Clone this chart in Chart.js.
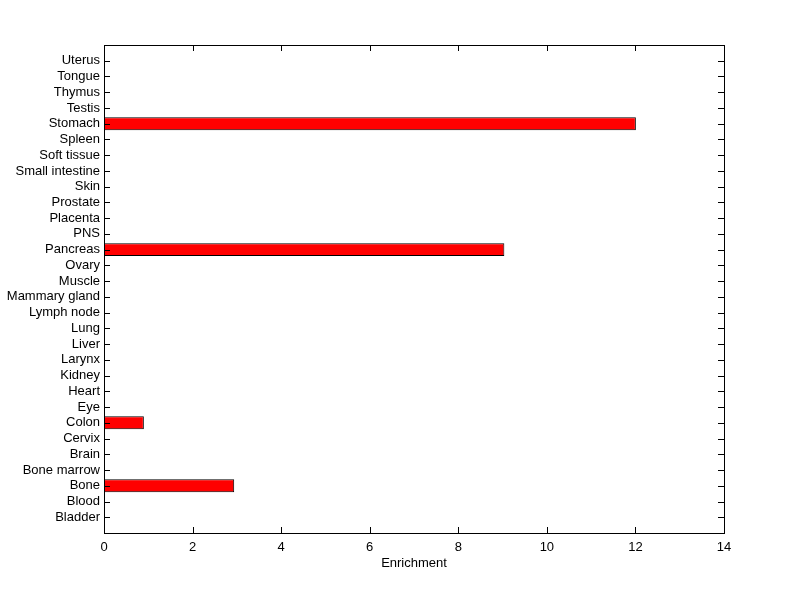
<!DOCTYPE html>
<html>
<head>
<meta charset="utf-8">
<script src="https://cdn.jsdelivr.net/npm/chart.js@4"></script>
<style>
  html, body { margin: 0; padding: 0; background: #fff; }
  #wrap { width: 800px; height: 599px; }
</style>
</head>
<body>
<div id="wrap"><canvas id="enrichChart" width="800" height="599"></canvas></div>
<script>
/* Tissue enrichment bar chart, MATLAB look */

// categories listed bottom to top
const TISSUES = [
  'Bladder', 'Blood', 'Bone', 'Bone marrow', 'Brain', 'Cervix', 'Colon', 'Eye',
  'Heart', 'Kidney', 'Larynx', 'Liver', 'Lung', 'Lymph node', 'Mammary gland',
  'Muscle', 'Ovary', 'Pancreas', 'PNS', 'Placenta', 'Prostate', 'Skin',
  'Small intestine', 'Soft tissue', 'Spleen', 'Stomach', 'Testis', 'Thymus',
  'Tongue', 'Uterus',
];
const ENRICHMENT = [
  0, 0, 2.94, 0, 0, 0, 0.9, 0,
  0, 0, 0, 0, 0, 0, 0,
  0, 0, 9.04, 0, 0, 0, 0,
  0, 0, 0, 12.01, 0, 0,
  0, 0,
];
const X_TICKS = [0, 2, 4, 6, 8, 10, 12, 14];

const FONT = { family: 'Arial, "Liberation Sans", Helvetica, sans-serif', size: 13 };
const TICK_LEN = 6;

// matlab style box with inward ticks on all four sides
const boxAxes = {
  id: 'boxAxes',
  afterDraw(chart) {
    const { ctx, chartArea: a, scales: { x, y } } = chart;
    ctx.save();
    ctx.strokeStyle = '#000';
    ctx.lineWidth = 1;
    ctx.beginPath();
    x.ticks.forEach(t => {
      const px = Math.round(x.getPixelForValue(t.value)) + 0.5;
      ctx.moveTo(px, a.bottom); ctx.lineTo(px, a.bottom - TICK_LEN);
      ctx.moveTo(px, a.top); ctx.lineTo(px, a.top + TICK_LEN);
    });
    y.ticks.forEach(t => {
      const py = Math.round(y.getPixelForValue(t.value)) + 0.5;
      ctx.moveTo(a.left, py); ctx.lineTo(a.left + TICK_LEN, py);
      ctx.moveTo(a.right, py); ctx.lineTo(a.right - TICK_LEN, py);
    });
    ctx.stroke();
    ctx.strokeRect(Math.round(a.left) + 0.5, Math.round(a.top) + 0.5,
      Math.round(a.right - a.left), Math.round(a.bottom - a.top));
    ctx.restore();
  },
};

const ctx = document.getElementById('enrichChart').getContext('2d');
new Chart(ctx, {
  type: 'bar',
  data: {
    datasets: [{
      data: ENRICHMENT.map((v, i) => ({ x: v, y: i + 1 })),
      backgroundColor: '#ff0000',
      borderColor: '#000',
      borderWidth: ENRICHMENT.map(v => v > 0 ? 1 : 0),
      borderSkipped: false,
      categoryPercentage: 1,
      barPercentage: 0.82,
    }],
  },
  plugins: [boxAxes],
  options: {
    indexAxis: 'y',
    responsive: false,
    animation: false,
    layout: { padding: { top: 45, right: 76, left: 0, bottom: 24 } },
    plugins: { legend: { display: false }, tooltip: { enabled: false } },
    scales: {
      x: {
        type: 'linear',
        min: 0,
        max: 14,
        afterBuildTicks: s => { s.ticks = X_TICKS.map(v => ({ value: v })); },
        afterFit: s => { s.height = 42; },
        grid: { display: false, drawTicks: false },
        border: { display: false },
        ticks: { color: '#000', font: FONT, padding: 7 },
        title: { display: true, text: 'Enrichment', color: '#000', font: FONT, padding: { top: 0, bottom: 4 } },
      },
      y: {
        type: 'linear',
        offset: false,
        min: 0,
        max: TISSUES.length + 1,
        afterBuildTicks: s => { s.ticks = TISSUES.map((_, i) => ({ value: i + 1 })); },
        afterFit: s => { s.width = 104; },
        grid: { display: false, drawTicks: false },
        border: { display: false },
        ticks: {
          color: '#000',
          font: FONT,
          padding: 4,
          autoSkip: false,
          callback: v => TISSUES[v - 1],
        },
      },
    },
  },
});
</script>
</body>
</html>
